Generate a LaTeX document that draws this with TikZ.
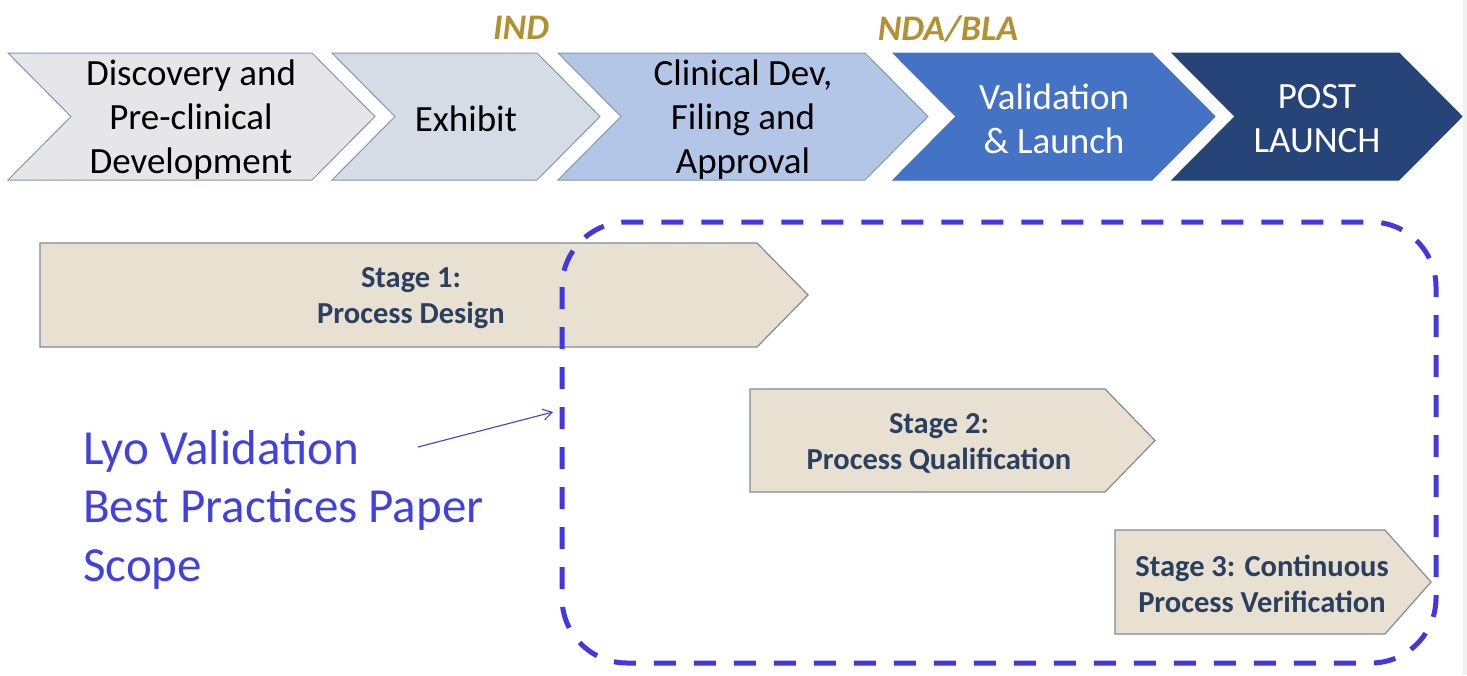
\documentclass[tikz,border=0pt]{standalone}
\usepackage{fontspec}
\setmainfont{Carlito}
\usetikzlibrary{arrows.meta}
\definecolor{chA}{HTML}{E6E6E9}
\definecolor{chB}{HTML}{D5DCE6}
\definecolor{chC}{HTML}{B4C6E7}
\definecolor{chD}{HTML}{4472C4}
\definecolor{chE}{HTML}{264478}
\definecolor{chEdge}{HTML}{8497B0}
\definecolor{stFill}{HTML}{E8E0D0}
\definecolor{stEdge}{HTML}{7F8B96}
\definecolor{stText}{HTML}{2B3F5F}
\definecolor{gold}{HTML}{B39130}
\definecolor{scopeBlue}{HTML}{4338E0}
\definecolor{textBlue}{HTML}{4141DF}
\tikzset{
  chevtext/.style={align=center, font=\fontsize{37}{44}\selectfont, inner sep=0pt},
  milestone/.style={font=\fontsize{36}{40}\selectfont\bfseries\itshape, text=gold, inner sep=0pt},
  stagetext/.style={align=center, font=\fontsize{30.5}{36}\selectfont\bfseries, text=stText, inner sep=0pt},
  stagebox/.style={fill=stFill, draw=stEdge, line width=1.2pt, line join=miter},
  scopebox/.style={draw=scopeBlue, line width=5pt, dash pattern=on 22pt off 18pt, rounded corners=65pt},
  scopetext/.style={align=left, font=\fontsize{49}{58.5}\selectfont, text=textBlue, inner sep=0pt, anchor=north west},
  pointer/.style={draw=textBlue, line width=1.1pt, -{Straight Barb[length=9pt,width=11pt,line width=1.1pt]}}
}
\newcommand{\chevshape}[5]{% left, topright, tip, fill, draw
  \path[fill=#4, draw=#5, line width=1pt] (#1,53) -- (#2,53) -- (#3,116.5) -- (#2,180) -- (#1,180) -- ({#1+63},116.5) -- cycle;}
\newcommand{\stageshape}[5]{% left, topright, tip, top, bottom
  \path[stagebox] (#1,#4) -- (#2,#4) -- (#3,{(#4+#5)/2}) -- (#2,#5) -- (#1,#5) -- cycle;}
\begin{document}
\begin{tikzpicture}[x=1pt,y=-1pt]
\useasboundingbox (0,0) rectangle (1467,675);
\fill[white] (0,0) rectangle (1467,675);
\fill[black!6] (1463,0) rectangle (1467,675);
% top chevrons
\chevshape{8}{312}{375}{chA}{chEdge}
\chevshape{332}{537}{600}{chB}{chEdge}
\chevshape{558}{865}{928}{chC}{chEdge}
\chevshape{893}{1152}{1215}{chD}{chD}
\chevshape{1172}{1399}{1462}{chE}{chE}
\node[chevtext] (p1) at (191,120) {Discovery and\\Pre-clinical\\Development};
\node[chevtext] (p2) at (466,119) {Exhibit};
\node[chevtext] (p3) at (743,120) {Clinical Dev,\\Filing and\\Approval};
\node[chevtext, text=white] (p4) at (1054,119) {Validation\\\& Launch};
\node[chevtext, text=white] (p5) at (1317,119) {POST\\LAUNCH};
\node[milestone] (ind) at (521,28) {IND};
\node[milestone] (nda) at (948,29) {NDA/BLA};
% stages
\stageshape{40}{757}{808}{243}{347}
\stageshape{750}{1105}{1155}{389}{492}
\stageshape{1115}{1385}{1431}{530}{634}
\node[stagetext] (s1) at (411,298) {Stage 1:\\Process Design};
\node[stagetext] (s2) at (939,443) {Stage 2:\\Process Qualification};
\node[stagetext] (s3) at (1262,584) {Stage 3: Continuous\\Process Verification};
% scope
\draw[scopebox] (562,222) rectangle (1436,663);
\node[scopetext] (lyo) at (83,430) {Lyo Validation\\Best Practices Paper\\Scope};
\coordinate (arrS) at (418,447);
\coordinate (arrE) at (553,412);
\draw[pointer] (arrS) -- (arrE);
\end{tikzpicture}
\end{document}
